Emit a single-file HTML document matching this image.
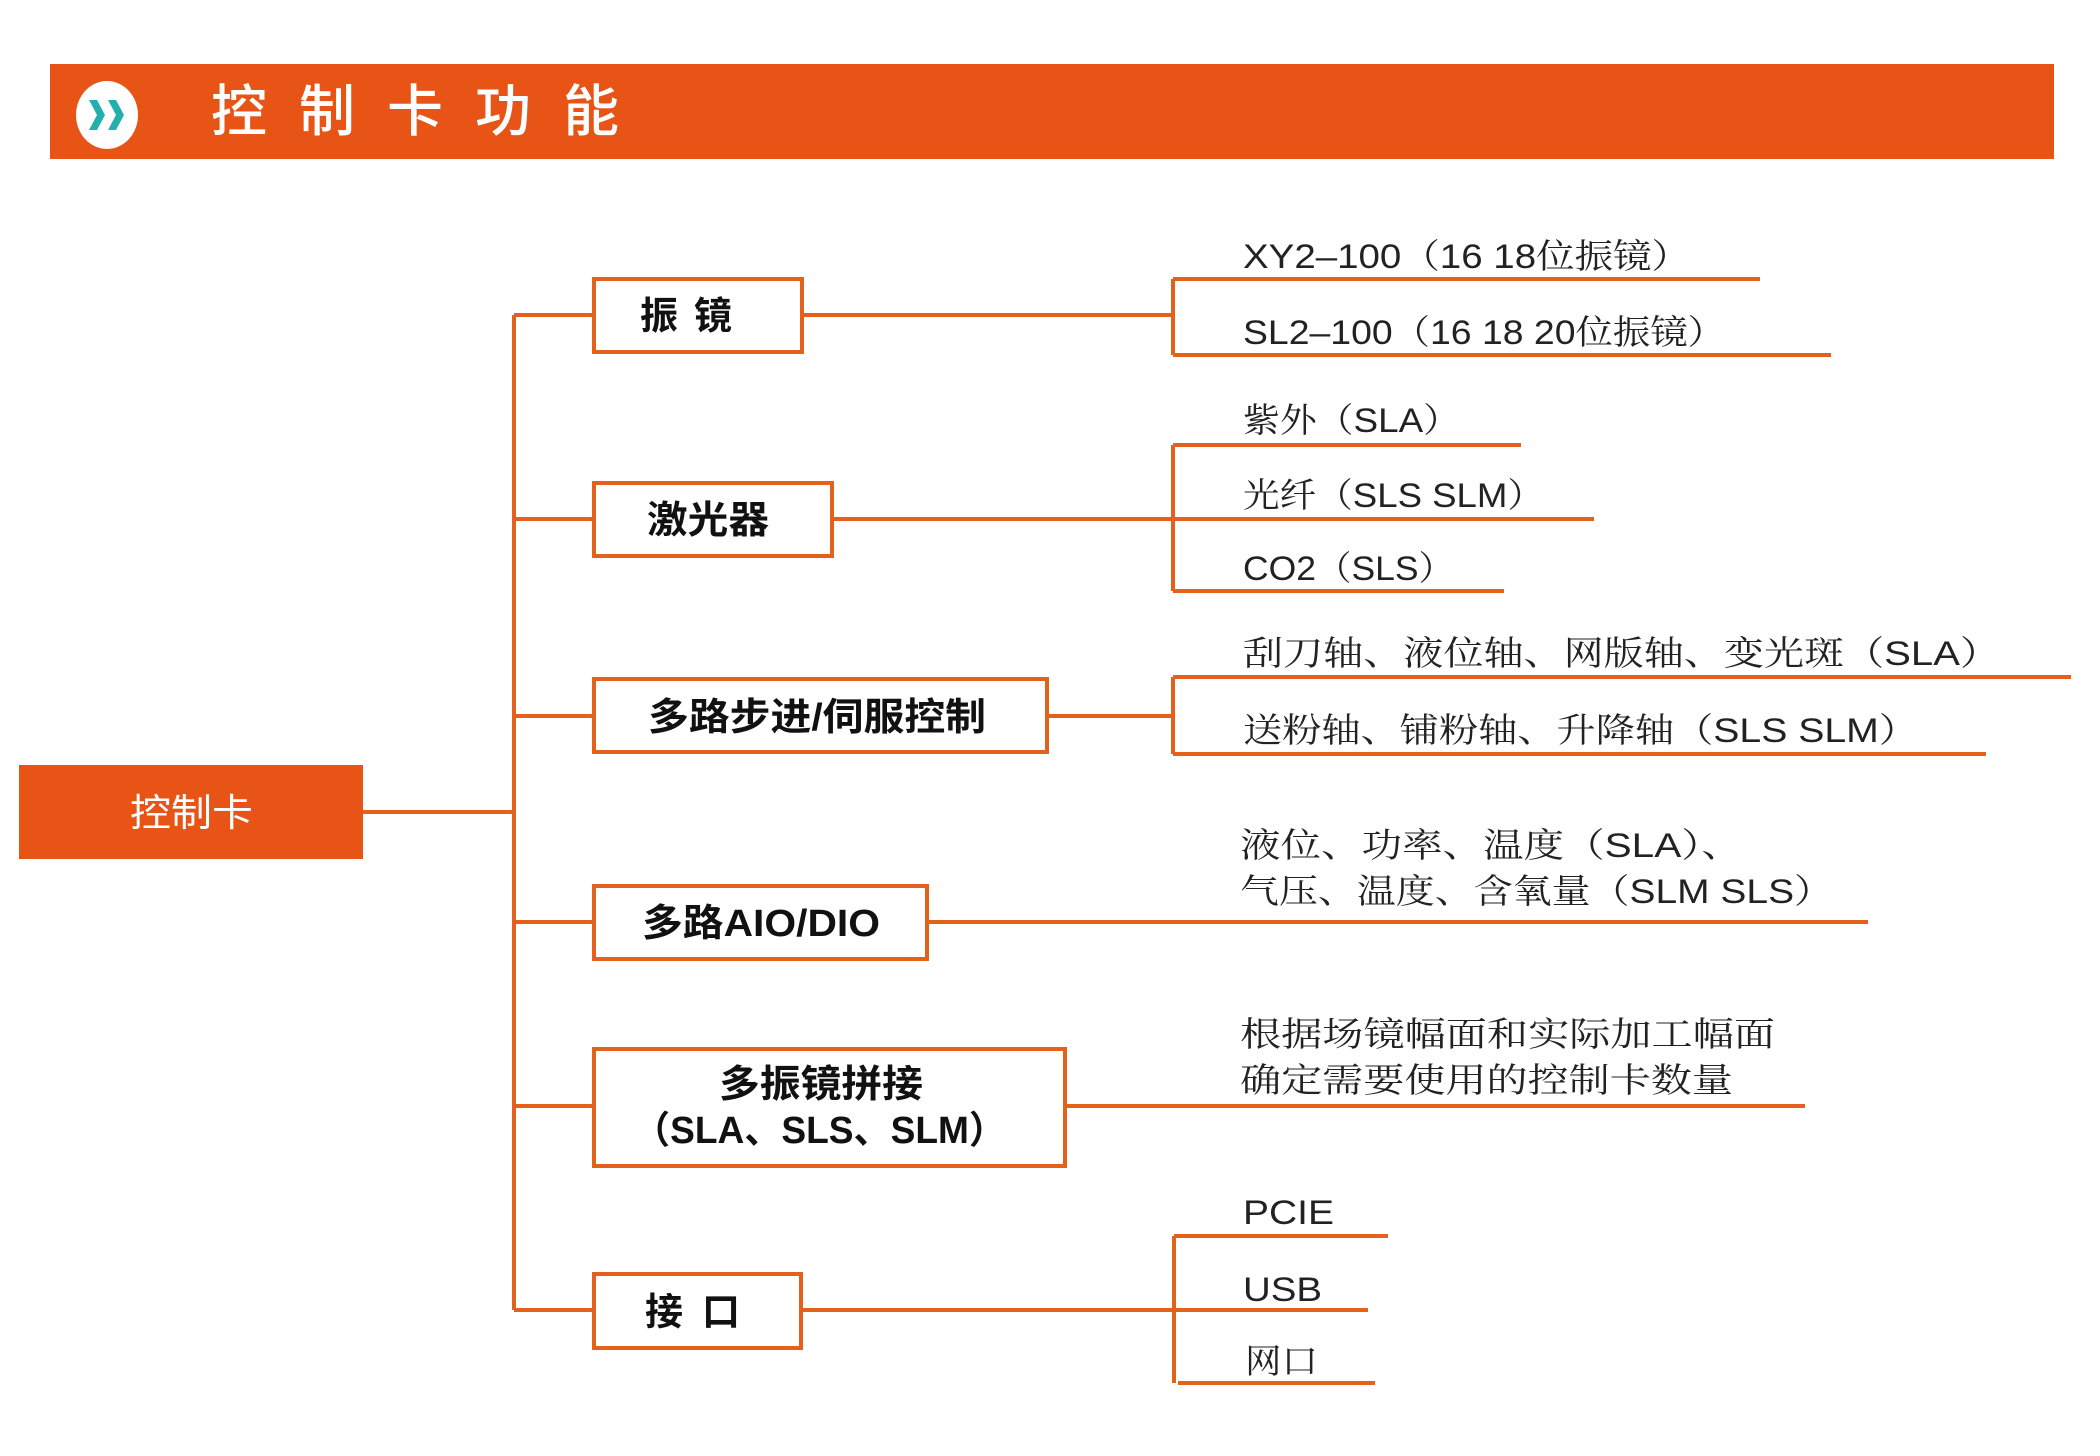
<!DOCTYPE html>
<html><head><meta charset="utf-8"><style>
html,body{margin:0;padding:0;background:#fff;}
svg{display:block;}
.bx{font-family:"Liberation Sans","Noto Sans CJK SC",sans-serif;font-weight:bold;font-size:38px;fill:#111;}
.st{font-family:"Liberation Sans","Noto Serif CJK SC",serif;font-size:34px;fill:#222;}
</style></head><body>
<svg width="2100" height="1456" viewBox="0 0 2100 1456" xmlns="http://www.w3.org/2000/svg">
<rect x="50" y="64" width="2004" height="95" fill="#e85415"/>
<ellipse cx="107" cy="115" rx="31" ry="34" fill="#fff"/>
<path d="M89 100 L97 100 L105 115 L97 130 L89 130 L97 115 Z" fill="#23b0ac"/>
<path d="M108 100 L116 100 L124 115 L116 130 L108 130 L116 115 Z" fill="#23b0ac"/>
<g font-family="Liberation Sans, Noto Sans CJK SC, sans-serif" font-size="56" fill="#fff" font-weight="500">
<text x="211" y="131">控</text><text x="299" y="131">制</text><text x="387" y="131">卡</text><text x="475" y="131">功</text><text x="563" y="131">能</text>
</g>
<g stroke="#e4611b" stroke-width="4" fill="none">
<rect x="19" y="765" width="344" height="94" fill="#e85415" stroke="none"/>
<line x1="363" y1="812" x2="514" y2="812"/>
<line x1="514" y1="315" x2="514" y2="1310"/>
<line x1="514" y1="315" x2="594" y2="315"/>
<line x1="514" y1="519" x2="594" y2="519"/>
<line x1="514" y1="716" x2="594" y2="716"/>
<line x1="514" y1="922" x2="594" y2="922"/>
<line x1="514" y1="1106" x2="594" y2="1106"/>
<line x1="514" y1="1310" x2="594" y2="1310"/>
<rect x="594" y="279" width="208" height="73"/>
<rect x="594" y="483" width="238" height="73"/>
<rect x="594" y="679" width="453" height="73"/>
<rect x="594" y="886" width="333" height="73"/>
<rect x="594" y="1049" width="471" height="117"/>
<rect x="594" y="1274" width="207" height="74"/>
<line x1="802" y1="315" x2="1173" y2="315"/>
<line x1="1173" y1="279" x2="1173" y2="355"/>
<line x1="1173" y1="279" x2="1760" y2="279"/>
<line x1="1173" y1="355" x2="1831" y2="355"/>
<line x1="832" y1="519" x2="1173" y2="519"/>
<line x1="1173" y1="445" x2="1173" y2="591"/>
<line x1="1173" y1="445" x2="1521" y2="445"/>
<line x1="1173" y1="519" x2="1594" y2="519"/>
<line x1="1173" y1="591" x2="1504" y2="591"/>
<line x1="1047" y1="716" x2="1173" y2="716"/>
<line x1="1173" y1="677" x2="1173" y2="754"/>
<line x1="1173" y1="677" x2="2071" y2="677"/>
<line x1="1173" y1="754" x2="1986" y2="754"/>
<line x1="927" y1="922" x2="1868" y2="922"/>
<line x1="1065" y1="1106" x2="1805" y2="1106"/>
<line x1="801" y1="1310" x2="1174" y2="1310"/>
<line x1="1174" y1="1236" x2="1174" y2="1383"/>
<line x1="1174" y1="1236" x2="1388" y2="1236"/>
<line x1="1174" y1="1310" x2="1368" y2="1310"/>
<line x1="1178" y1="1383" x2="1375" y2="1383"/>
</g>
<text x="130" y="826" font-family="Liberation Sans, Noto Sans CJK SC, sans-serif" font-size="38" fill="#fff" textLength="123" lengthAdjust="spacingAndGlyphs">控制卡</text>
<text x="640" y="329" class="bx" textLength="92">振 镜</text>
<text x="647" y="533" class="bx" textLength="122" lengthAdjust="spacingAndGlyphs">激光器</text>
<text x="648" y="730" class="bx" textLength="338" lengthAdjust="spacingAndGlyphs">多路步进/伺服控制</text>
<text x="642" y="936" class="bx" textLength="238" lengthAdjust="spacingAndGlyphs">多路AIO/DIO</text>
<text x="719" y="1097" class="bx" textLength="204" lengthAdjust="spacingAndGlyphs">多振镜拼接</text>
<text x="633" y="1143" class="bx" textLength="373" lengthAdjust="spacingAndGlyphs">（SLA、SLS、SLM）</text>
<text x="645" y="1325" class="bx" textLength="95">接 口</text>
<text x="1243" y="268" class="st" textLength="447" lengthAdjust="spacingAndGlyphs">XY2–100（16 18位振镜）</text>
<text x="1243" y="344" class="st" textLength="482" lengthAdjust="spacingAndGlyphs">SL2–100（16 18 20位振镜）</text>
<text x="1243" y="432" class="st" textLength="217" lengthAdjust="spacingAndGlyphs">紫外（SLA）</text>
<text x="1243" y="507" class="st" textLength="301" lengthAdjust="spacingAndGlyphs">光纤（SLS SLM）</text>
<text x="1243" y="580" class="st" textLength="211" lengthAdjust="spacingAndGlyphs">CO2（SLS）</text>
<text x="1243" y="665" class="st" textLength="757" lengthAdjust="spacingAndGlyphs">刮刀轴、液位轴、网版轴、变光斑（SLA）</text>
<text x="1243" y="742" class="st" textLength="675" lengthAdjust="spacingAndGlyphs">送粉轴、铺粉轴、升降轴（SLS SLM）</text>
<text x="1240" y="857" class="st" textLength="502" lengthAdjust="spacingAndGlyphs">液位、功率、温度（SLA）、</text>
<text x="1240" y="903" class="st" textLength="593" lengthAdjust="spacingAndGlyphs">气压、温度、含氧量（SLM SLS）</text>
<text x="1240" y="1046" class="st" textLength="535" lengthAdjust="spacingAndGlyphs">根据场镜幅面和实际加工幅面</text>
<text x="1240" y="1092" class="st" textLength="493" lengthAdjust="spacingAndGlyphs">确定需要使用的控制卡数量</text>
<text x="1243" y="1224" class="st" textLength="91" lengthAdjust="spacingAndGlyphs">PCIE</text>
<text x="1243" y="1301" class="st" textLength="79" lengthAdjust="spacingAndGlyphs">USB</text>
<text x="1245" y="1373" class="st" textLength="73" lengthAdjust="spacingAndGlyphs">网口</text>
</svg>
</body></html>
